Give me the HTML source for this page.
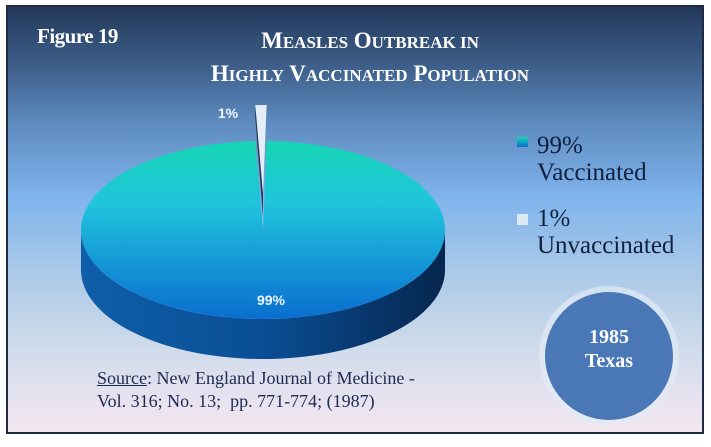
<!DOCTYPE html>
<html><head><meta charset="utf-8"><style>
html,body{margin:0;padding:0;background:#fff;}
#wrap{position:relative;width:711px;height:447px;overflow:hidden;background:#fff;}
#panel{position:absolute;left:6px;top:5px;width:694px;height:425px;border:2px solid #1e2a44;
background:linear-gradient(to bottom,#23395a 0%,#3e5f8a 14%,#5f8dc2 28%,#80b4ec 45%,#a9c8e8 62%,#cbd9ea 78%,#ece4f0 95%,#f3e6ef 100%);}
.t{position:absolute;font-family:"Liberation Serif",serif;font-weight:bold;color:#fff;}
.lg{position:absolute;font-family:"Liberation Serif",serif;color:#10203c;font-size:25px;line-height:27px;}
</style></head><body>
<div id="wrap">
<div id="panel"></div>
<div class="t" style="left:37px;top:24px;font-size:21px;letter-spacing:-0.5px;">Figure 19</div>
<div class="t" style="left:140px;top:25px;width:460px;text-align:center;font-size:23px;line-height:31px;">M<span style="font-size:17px">EASLES</span> O<span style="font-size:17px">UTBREAK IN</span><br>H<span style="font-size:17px">IGHLY</span> V<span style="font-size:17px">ACCINATED</span> P<span style="font-size:17px">OPULATION</span></div>
<svg id="pie" width="711" height="447" style="position:absolute;left:0;top:0">
<defs>
<linearGradient id="gTop" x1="0" y1="0" x2="0" y2="1"><stop offset="0" stop-color="#16d6b4"/><stop offset="0.35" stop-color="#20c4dc"/><stop offset="1" stop-color="#0a6ed0"/></linearGradient>
<linearGradient id="gSide" x1="0" y1="0" x2="1" y2="0"><stop offset="0" stop-color="#0e5fa8"/><stop offset="0.5" stop-color="#0a4e96"/><stop offset="1" stop-color="#06264e"/></linearGradient>
</defs>
</svg>
<div class="lg" style="left:537px;top:132px;">99%<br>Vaccinated</div>
<div style="position:absolute;left:517px;top:137px;width:11px;height:10px;background:linear-gradient(#16d6b4,#0a6ed0);"></div>
<div class="lg" style="left:537px;top:205px;">1%<br>Unvaccinated</div>
<div style="position:absolute;left:517px;top:214px;width:11px;height:11px;background:#dce8f4;"></div>
<div style="position:absolute;left:539px;top:286px;width:140px;height:140px;border-radius:50%;background:rgba(225,235,245,0.7);"></div>
<div style="position:absolute;left:545px;top:292px;width:128px;height:128px;border-radius:50%;background:#4a78b6;"></div>
<div class="t" style="left:545px;top:325px;width:128px;text-align:center;font-size:20px;line-height:24px;">1985<br>Texas</div>
<div style="position:absolute;left:97px;top:367px;font-family:'Liberation Serif',serif;font-size:18px;line-height:23px;color:#1e2a50;"><u>Source</u>: New England Journal of Medicine -<br>Vol. 316; No. 13;&nbsp; pp. 771-774; (1987)</div>
</div>
<script>
const categories=["Vaccinated","Unvaccinated"];
const values=[99,1];
const labels=["99%","1%"];
const svg=document.getElementById('pie');
const NS='http://www.w3.org/2000/svg';
const cx=263,cy=230,rx=182,ry=89,depth=40,explode=36;
const total=values.reduce((a,b)=>a+b,0);
function pt(a,dx,dy){return [cx+dx+rx*Math.cos(a),cy+dy+ry*Math.sin(a)];}
function mk(tag,attrs){const e=document.createElementNS(NS,tag);for(const k in attrs)e.setAttribute(k,attrs[k]);svg.appendChild(e);return e;}
let smallEnd=-Math.PI/2+0.02;
let smallStart=smallEnd-2*Math.PI*values[1]/total;
let bigStart=smallEnd, bigEnd=smallStart+2*Math.PI;
const side=mk('path',{d:`M${cx-rx},${cy} A${rx},${ry} 0 0 0 ${cx+rx},${cy} L${cx+rx},${cy+depth} A${rx},${ry} 0 0 1 ${cx-rx},${cy+depth} Z`,fill:'url(#gSide)'});


let p1=pt(bigStart,0,0),p2=pt(bigEnd,0,0);
const big=mk('path',{d:`M${cx},${cy} L${p1[0]},${p1[1]} A${rx},${ry} 0 ${(bigEnd-bigStart)>Math.PI?1:0} 1 ${p2[0]},${p2[1]} Z`,fill:'url(#gTop)'});


let q1=pt(smallStart,0,-explode),q2=pt(smallEnd,0,-explode);
const sm=mk('path',{d:`M${cx},${cy-explode} L${q1[0]},${q1[1]} A${rx},${ry} 0 0 1 ${q2[0]},${q2[1]} Z`,fill:'#e4eef8'});


const smSide=mk('path',{d:`M${cx},${cy-explode} L${q1[0]},${q1[1]} L${q1[0]},${q1[1]+depth*0.3} L${cx},${cy-explode+depth*0.6} Z`,fill:'#2a3a50'});


const t1=mk('text',{x:271,y:305,'text-anchor':'middle','font-family':'Liberation Sans, sans-serif','font-weight':'bold','font-size':'14',fill:'#eef4ff'});
t1.textContent=labels[0];


const t2=mk('text',{x:228,y:118,'text-anchor':'middle','font-family':'Liberation Sans, sans-serif','font-weight':'bold','font-size':'14',fill:'#eef4ff'});
t2.textContent=labels[1];


</script>
</body></html>
